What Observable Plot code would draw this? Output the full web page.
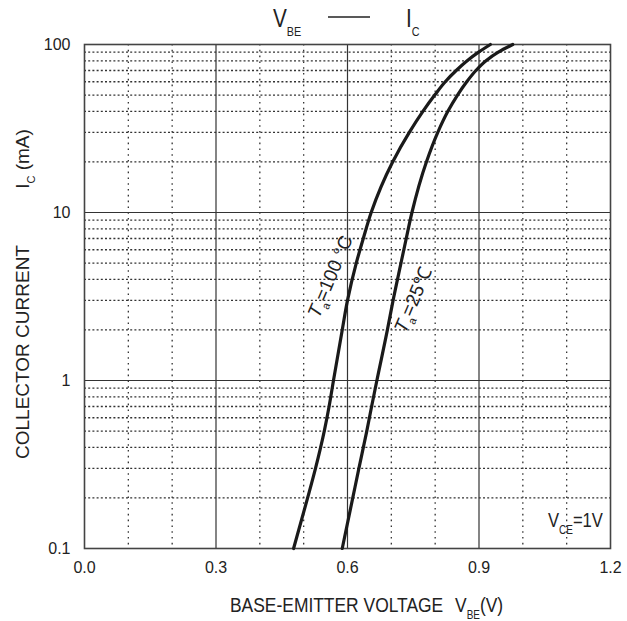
<!DOCTYPE html>
<html><head><meta charset="utf-8">
<script src="https://cdn.jsdelivr.net/npm/d3@7"></script>
<script src="https://cdn.jsdelivr.net/npm/@observablehq/plot@0.6"></script>
<style>
body{margin:0;background:#fff;}
#chart svg{display:block;}
</style></head><body><div id="chart"></div>
<script>
// Ta = 100 °C curve
const ic100  = [0.1, 0.2, 0.3, 0.5, 0.7, 1, 2, 3, 5, 7, 10, 20, 30, 40, 50, 60, 70, 80, 90, 100];
const vbe100 = [0.477, 0.509, 0.527, 0.547, 0.558, 0.568, 0.588, 0.600, 0.620, 0.636, 0.654, 0.703, 0.741, 0.772, 0.799, 0.823, 0.848, 0.873, 0.899, 0.926];
// Ta = 25 °C curve
const ic25  = [0.1, 0.2, 0.3, 0.5, 0.7, 1, 2, 3, 5, 7, 10, 20, 30, 40, 50, 60, 70, 80, 90, 100];
const vbe25 = [0.588, 0.612, 0.626, 0.644, 0.655, 0.667, 0.691, 0.704, 0.722, 0.734, 0.747, 0.780, 0.806, 0.829, 0.851, 0.872, 0.893, 0.916, 0.944, 0.977];

const xTicks = [0, 0.3, 0.6, 0.9, 1.2];
const xMajorGrid = [0.3, 0.6, 0.9];
const xMinorGrid = [0.1, 0.2, 0.4, 0.5, 0.7, 0.8, 1.0, 1.1];
const yTicks = [0.1, 1, 10, 100];
const yMajorGrid = [1, 10];
const yMinorGrid = [0.2,0.3,0.4,0.5,0.6,0.7,0.8,0.9, 2,3,4,5,6,7,8,9, 20,30,40,50,60,70,80,90];

// curve annotations (data coordinates)
const labelNames = ["100 °C", "25℃"];
const labelV = [0.575, 0.764];
const labelI = [4.0, 2.9];

const rows = [
  ...ic100.map((ic, i) => ({v: vbe100[i], ic, series: "100"})),
  ...ic25.map((ic, i) => ({v: vbe25[i], ic, series: "25"}))
];

const FONT = "'Liberation Sans',Arial,sans-serif";
const SQ = 0.83; // horizontal squeeze of the lettering

const chart = Plot.plot({
  width: 627, height: 621,
  marginLeft: 84, marginRight: 17, marginTop: 44, marginBottom: 73,
  style: {fontFamily: FONT, fontSize: "16px", color: "#222", background: "#fff"},
  x: {domain: [0, 1.2], ticks: xTicks, tickFormat: d3.format(".1f"), tickSize: 0, tickPadding: 13, label: null},
  y: {type: "log", domain: [0.1, 100], ticks: yTicks, tickFormat: d => String(d), tickSize: 0, tickPadding: 14, label: null},
  marks: [
    Plot.ruleX(xMinorGrid, {stroke: "#333", strokeWidth: 1.3, strokeDasharray: "1.6,4.2"}),
    Plot.ruleY(yMinorGrid, {stroke: "#333", strokeWidth: 1.3, strokeDasharray: "2,2.2"}),
    Plot.ruleX(xMajorGrid, {stroke: "#333", strokeWidth: 1.2}),
    Plot.ruleY(yMajorGrid, {stroke: "#333", strokeWidth: 1.2}),
    Plot.frame({stroke: "#444", strokeWidth: 1.6}),
    Plot.line(rows, {x: "v", y: "ic", z: "series", stroke: "#1a1a1a", strokeWidth: 3.2, curve: "monotone-y"})
  ]
});
document.getElementById("chart").append(chart);

const svg = d3.select(chart);
const sx = chart.scale("x"), sy = chart.scale("y");

function rich(parts, x, y, {size = 17, sub = 11, shift = 8, anchor = "start", rotate = 0, squeeze = SQ, fill = "#222"} = {}) {
  const t = svg.append("text")
    .attr("transform", `translate(${x},${y}) rotate(${rotate}) scale(${squeeze},1)`)
    .attr("text-anchor", anchor)
    .attr("font-family", FONT)
    .attr("font-size", size)
    .attr("fill", fill);
  let prevSub = false;
  for (const p of parts) {
    const ts = t.append("tspan").text(p.t);
    if (p.sub) { ts.attr("font-size", sub).attr("dy", shift); }
    else if (prevSub) { ts.attr("dy", -shift); }
    if (p.italic) ts.attr("font-style", "italic");
    prevSub = !!p.sub;
  }
  return t;
}

// title
rich([{t: "V"}, {t: "BE", sub: true}], 273, 27, {size: 25, sub: 13, shift: 9});
svg.append("line").attr("x1", 328).attr("x2", 370).attr("y1", 17).attr("y2", 17).attr("stroke", "#222").attr("stroke-width", 1.5);
rich([{t: "I"}, {t: "C", sub: true}], 406, 27, {size: 25, sub: 13, shift: 9});

// y-axis label
rich([{t: "COLLECTOR CURRENT"}], 29, 352, {size: 19, anchor: "middle", rotate: -90, squeeze: 1});
rich([{t: "I"}, {t: "C", sub: true}, {t: " (mA)"}], 29, 159, {size: 19, sub: 11, shift: 6, anchor: "middle", rotate: -90, squeeze: 1});

// x-axis label
rich([{t: "BASE-EMITTER VOLTAGE"}], 230, 612, {size: 21});
rich([{t: "V"}, {t: "BE", sub: true}, {t: "(V)"}], 455, 612, {size: 21, sub: 12, shift: 7});

// condition
rich([{t: "V"}, {t: "CE", sub: true}, {t: "=1V"}], 548, 527, {size: 20, sub: 12, shift: 7});

// curve labels
labelNames.forEach((name, i) => {
  rich([{t: "T", italic: true}, {t: "a", sub: true}, {t: "=" + name}],
       sx.apply(labelV[i]), sy.apply(labelI[i]),
       {size: 19, sub: 11, shift: 5, anchor: "middle", rotate: -67, squeeze: 1});
});
</script></body></html>
